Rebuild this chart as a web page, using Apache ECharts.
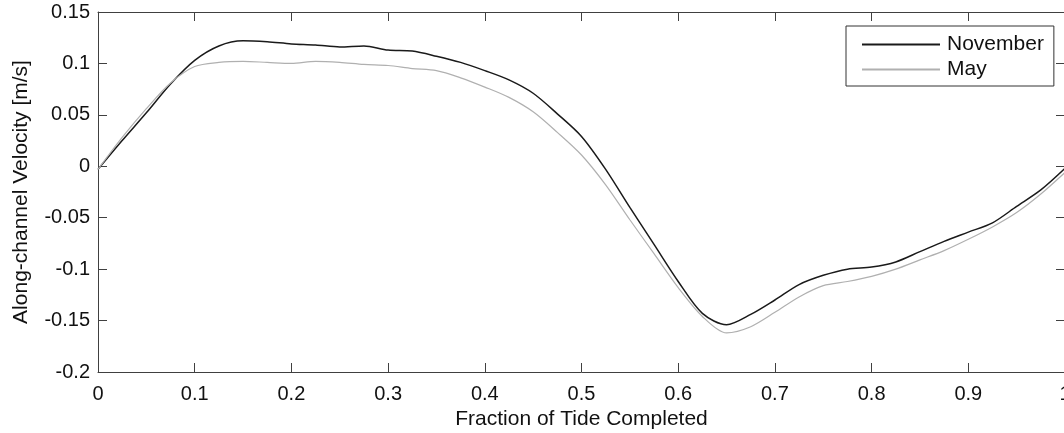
<!DOCTYPE html>
<html>
<head>
<meta charset="utf-8">
<script src="https://cdn.jsdelivr.net/npm/echarts@6/dist/echarts.min.js"></script>
<style>
html,body{margin:0;padding:0;background:#fff;}
#c{width:1064px;height:433px;}
</style>
</head>
<body>
<div id="c"></div>
<script>
const fraction = [0,0.025,0.05,0.075,0.1,0.125,0.15,0.175,0.2,0.225,0.25,0.275,0.3,0.325,0.35,0.375,0.4,0.425,0.45,0.475,0.5,0.525,0.55,0.575,0.6,0.625,0.65,0.675,0.7,0.725,0.75,0.775,0.8,0.825,0.85,0.875,0.9,0.925,0.95,0.975,1.0];
const november = [-0.003,0.025,0.052,0.080,0.103,0.117,0.122,0.121,0.119,0.118,0.116,0.117,0.113,0.112,0.107,0.101,0.093,0.084,0.071,0.051,0.029,-0.003,-0.040,-0.076,-0.112,-0.143,-0.154,-0.144,-0.130,-0.115,-0.106,-0.100,-0.098,-0.093,-0.083,-0.073,-0.064,-0.055,-0.039,-0.023,-0.002];
const may = [-0.003,0.028,0.056,0.081,0.097,0.101,0.102,0.101,0.100,0.102,0.101,0.099,0.098,0.095,0.093,0.086,0.077,0.067,0.053,0.033,0.011,-0.018,-0.052,-0.085,-0.118,-0.146,-0.162,-0.156,-0.142,-0.127,-0.116,-0.112,-0.107,-0.100,-0.091,-0.082,-0.071,-0.059,-0.045,-0.027,-0.006];
const seriesNames = ['November','May'];
const xTitle = 'Fraction of Tide Completed';
const yTitle = 'Along-channel Velocity [m/s]';

const FONT = 'Liberation Sans';
const axisCol = '#404040';
const chart = echarts.init(document.getElementById('c'), null, {renderer:'canvas'});
const pair = (xs, ys) => xs.map((x,i)=>[x, ys[i]]);
const boxAxis = (pos, isX, show) => ({
  type:'value', position:pos, min: isX?0:-0.2, max: isX?1:0.15, interval: isX?0.1:0.05,
  axisLine:{show:true, onZero:false, lineStyle:{color:axisCol,width:1}},
  axisTick:{show:true, inside:true, length:9, lineStyle:{color:axisCol,width:1}},
  splitLine:{show:false},
  axisLabel:{show:show, color:'#111', fontFamily:FONT, fontSize:20, margin: isX?12:8},
});
const xMain = Object.assign(boxAxis('bottom', true, true), {
  name:xTitle, nameLocation:'middle', nameGap:37,
  nameTextStyle:{color:'#111', fontFamily:FONT, fontSize:21}
});
const yMain = Object.assign(boxAxis('left', false, true), {
  name:yTitle, nameLocation:'middle', nameGap:66,
  nameTextStyle:{color:'#111', fontFamily:FONT, fontSize:21}
});
chart.setOption({
  animation:false,
  backgroundColor:'#fff',
  grid:{left:98, top:12, width:967, height:360, containLabel:false, outerBoundsMode:'none'},
  xAxis:[xMain, boxAxis('top', true, false)],
  yAxis:[yMain, boxAxis('right', false, false)],
  legend:{
    orient:'vertical', left:846, top:26,
    data:seriesNames,
    itemWidth:78, itemHeight:14, itemGap:4,
    padding:[8,10,6,15],
    borderColor:'#333', borderWidth:1, backgroundColor:'#fff',
    itemStyle:{opacity:0},
    textStyle:{color:'#111', fontFamily:FONT, fontSize:21, padding:[0,0,0,2]}
  },
  series:[
    {name:seriesNames[0], type:'line', xAxisIndex:0, yAxisIndex:0, data:pair(fraction,november),
     symbol:'none', smooth:0.3, lineStyle:{color:'#1a1a1a', width:1.5}, itemStyle:{color:'#1a1a1a'}},
    {name:seriesNames[1], type:'line', xAxisIndex:0, yAxisIndex:0, data:pair(fraction,may),
     symbol:'none', smooth:0.3, lineStyle:{color:'#b0b0b0', width:1.2}, itemStyle:{color:'#b0b0b0'}}
  ]
});
</script>
</body>
</html>
